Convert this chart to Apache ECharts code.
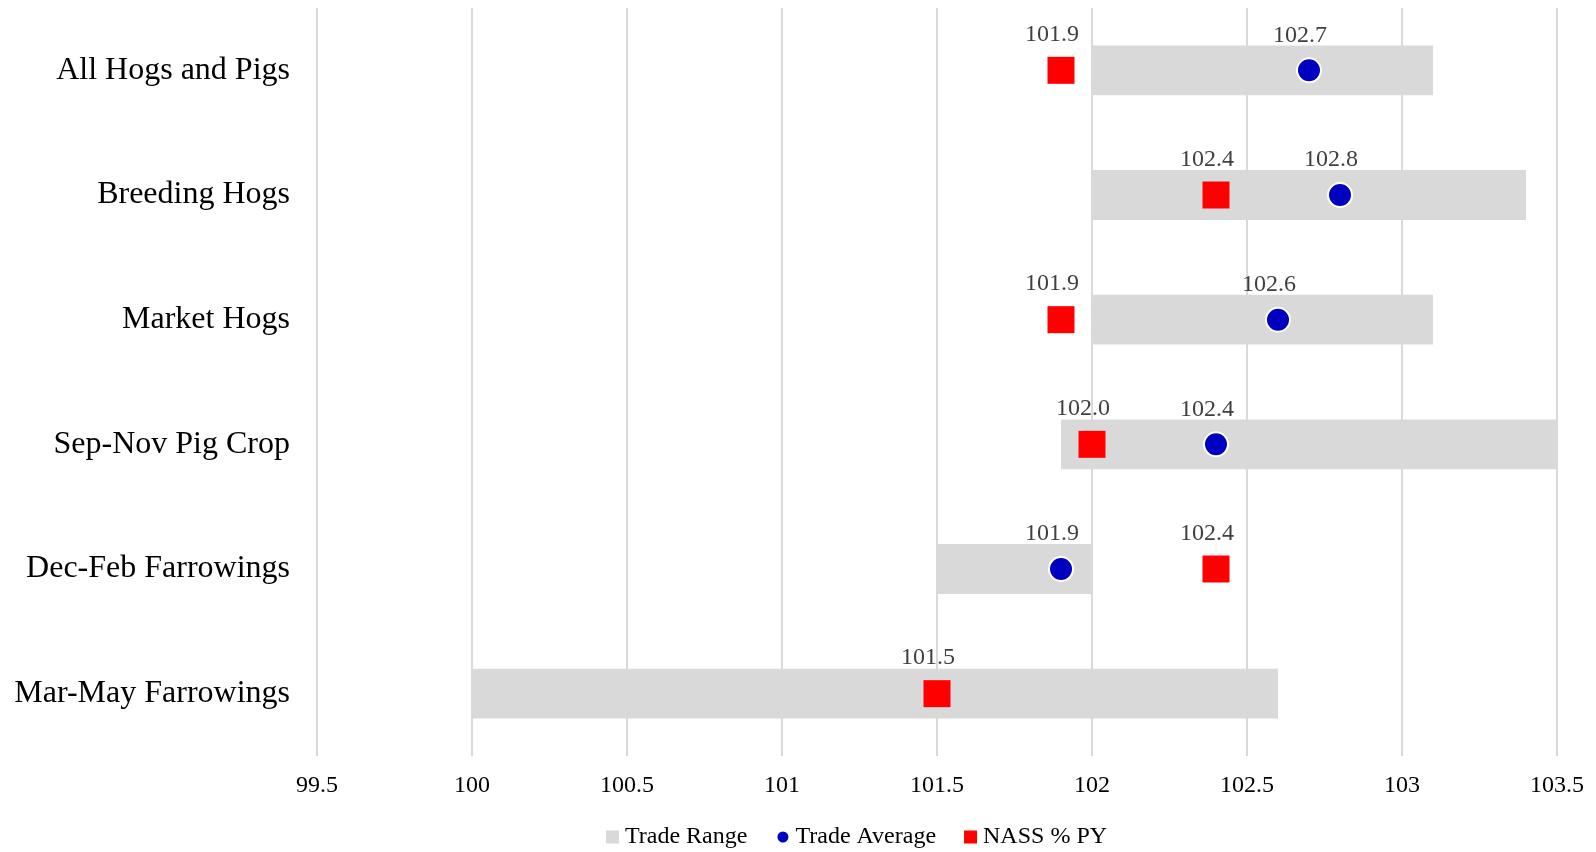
<!DOCTYPE html>
<html>
<head>
<meta charset="utf-8">
<script src="https://cdn.jsdelivr.net/npm/echarts@6/dist/echarts.min.js"></script>
<style>
html,body{margin:0;padding:0;background:#fff;}
#chart{width:1596px;height:852px;}
</style>
</head>
<body>
<div id="chart"></div>
<script>
const categories = ['All Hogs and Pigs','Breeding Hogs','Market Hogs','Sep-Nov Pig Crop','Dec-Feb Farrowings','Mar-May Farrowings'];
const rangeLow  = [102.0, 102.0, 102.0, 101.9, 101.5, 100.0];
const rangeHigh = [103.1, 103.4, 103.1, 103.5, 102.0, 102.6];
const tradeAverage = [102.7, 102.8, 102.6, 102.4, 101.9, 101.5];
const nassPY = [101.9, 102.4, 101.9, 102.0, 102.4, 101.5];
const xTicks = [99.5, 100, 100.5, 101, 101.5, 102, 102.5, 103, 103.5];

const FONT = '"Liberation Serif", "Times New Roman", serif';
const chart = echarts.init(document.getElementById('chart'));

const rangeSpan = rangeHigh.map((h, i) => +(h - rangeLow[i]).toFixed(2));

const labelBase = {
  show: true,
  position: 'top',
  distance: 10,
  offset: [-9, 0],
  color: '#404040',
  fontFamily: FONT,
  fontSize: 24
};

chart.setOption({
  animation: false,
  backgroundColor: '#fff',
  grid: { left: 317, right: 39, top: 8, bottom: 96 },
  legend: {
    data: [
      { name: 'Trade Range', icon: 'rect' },
      { name: 'Trade Average', icon: 'circle' },
      { name: 'NASS % PY', icon: 'rect' }
    ],
    top: 820,
    left: 601,
    itemWidth: 13,
    itemHeight: 13,
    itemGap: 28,
    textStyle: { fontFamily: FONT, fontSize: 24, color: '#000', padding: [0, 0, 0, 1] }
  },
  xAxis: {
    type: 'value',
    min: xTicks[0],
    max: xTicks[xTicks.length - 1],
    interval: 0.5,
    axisLine: { show: false },
    axisTick: { show: false },
    splitLine: { show: true, lineStyle: { color: '#D9D9D9', width: 2 } },
    axisLabel: {
      margin: 18,
      color: '#000',
      fontFamily: FONT,
      fontSize: 24,
      formatter: v => String(v)
    }
  },
  yAxis: {
    type: 'category',
    data: categories,
    inverse: true,
    axisLine: { show: false },
    axisTick: { show: false },
    splitLine: { show: false },
    axisLabel: { margin: 27, color: '#000', fontFamily: FONT, fontSize: 32, lineHeight: 32, padding: [6, 0, 0, 0] }
  },
  series: [
    {
      name: 'base',
      type: 'bar',
      stack: 'range',
      barWidth: '40%',
      silent: true,
      itemStyle: { color: 'rgba(0,0,0,0)' },
      data: rangeLow
    },
    {
      name: 'Trade Range',
      type: 'bar',
      stack: 'range',
      barWidth: '40%',
      itemStyle: { color: '#D9D9D9' },
      data: rangeSpan
    },
    {
      name: 'Trade Average',
      type: 'scatter',
      symbol: 'circle',
      symbolSize: 24,
      itemStyle: { color: '#0000C0', opacity: 1, borderColor: '#fff', borderWidth: 2 },
      label: Object.assign({}, labelBase, {
        formatter: p => (nassPY[p.dataIndex] === p.value[0] ? '' : p.value[0].toFixed(1))
      }),
      z: 3,
      data: tradeAverage.map((v, i) => [v, categories[i]])
    },
    {
      name: 'NASS % PY',
      type: 'scatter',
      symbol: 'rect',
      symbolSize: 27,
      itemStyle: { color: '#FF0000', opacity: 1 },
      label: Object.assign({}, labelBase, {
        formatter: p => p.value[0].toFixed(1)
      }),
      z: 4,
      data: nassPY.map((v, i) => [v, categories[i]])
    }
  ]
});
</script>
</body>
</html>
